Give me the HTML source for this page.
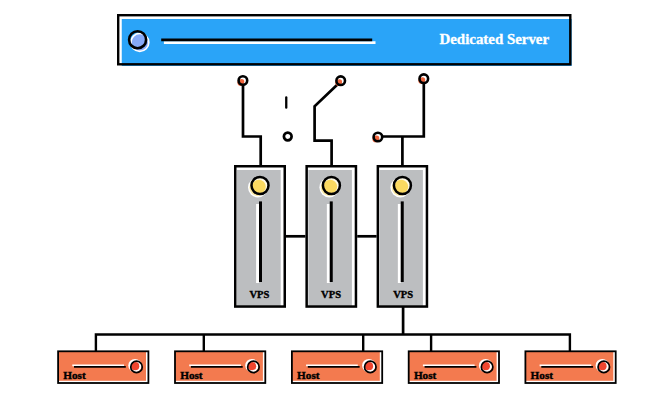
<!DOCTYPE html>
<html><head><meta charset="utf-8"><title>Dedicated Server</title>
<style>
html,body{margin:0;padding:0;background:#fff;}
svg{display:block;}
text{font-family:"Liberation Serif",serif;font-weight:bold;}
</style></head>
<body>
<svg width="662" height="400" viewBox="0 0 662 400">
<rect width="662" height="400" fill="#ffffff"/>

<!-- Dedicated server -->
<rect x="121.75" y="19" width="449.95" height="47" fill="#2aa4f8"/>
<rect x="118.2" y="15.2" width="452.1" height="49.1" fill="none" stroke="#000" stroke-width="2.4"/>
<circle cx="139.8" cy="42.4" r="9.0" fill="#86a9f7" stroke="#fff" stroke-width="1.7"/>
<circle cx="137.6" cy="39.7" r="8.5" fill="none" stroke="#000" stroke-width="2.6"/>
<line x1="163.9" y1="42.7" x2="375.5" y2="42.7" stroke="#fff" stroke-width="2.8"/>
<line x1="161.2" y1="39.8" x2="372.2" y2="39.8" stroke="#000" stroke-width="2.8"/>
<text x="439.5" y="44" font-size="13.8" fill="#fff" stroke="#fff" stroke-width="0.3" textLength="109.6" lengthAdjust="spacingAndGlyphs">Dedicated Server</text>

<!-- switches -->
<g fill="none" stroke="#000" stroke-width="2.7" stroke-linejoin="miter">
<polyline points="243,85 243,136.5 260.7,136.5 260.7,166"/>
<polyline points="338,84 314.6,106.3 314.6,140.6 331.6,140.6 331.6,166"/>
<polyline points="423.8,83 423.8,136.5 382,136.5"/>
<line x1="402.4" y1="136.5" x2="402.4" y2="166"/>
<line x1="286.25" y1="97.4" x2="286.25" y2="107.7" stroke-width="2.3" stroke-linecap="round"/>
<circle cx="287.75" cy="136.5" r="3.85" stroke-width="2.7"/>
</g>
<g>
<circle cx="240.8" cy="82.4" r="3.4" fill="#f0643c"/><circle cx="242.9" cy="80.5" r="4.3" fill="#fff"/><circle cx="241.6" cy="81.7" r="2.7" fill="#f0643c"/><circle cx="242.9" cy="80.5" r="4.3" fill="none" stroke="#000" stroke-width="2.6"/>
<circle cx="338.6" cy="82.6" r="3.4" fill="#f0643c"/><circle cx="340.7" cy="80.7" r="4.3" fill="#fff"/><circle cx="339.4" cy="81.9" r="2.7" fill="#f0643c"/><circle cx="340.7" cy="80.7" r="4.3" fill="none" stroke="#000" stroke-width="2.6"/>
<circle cx="421.7" cy="80.6" r="3.4" fill="#f0643c"/><circle cx="423.8" cy="78.7" r="4.3" fill="#fff"/><circle cx="422.5" cy="79.9" r="2.7" fill="#f0643c"/><circle cx="423.8" cy="78.7" r="4.3" fill="none" stroke="#000" stroke-width="2.6"/>
<circle cx="375.8" cy="138.9" r="3.4" fill="#f0643c"/><circle cx="377.9" cy="137" r="4.3" fill="#fff"/><circle cx="376.6" cy="138.2" r="2.7" fill="#f0643c"/><circle cx="377.9" cy="137" r="4.3" fill="none" stroke="#000" stroke-width="2.6"/>
</g>

<!-- VPS towers -->
<g>
<rect x="236.90" y="170" width="43.80" height="136.5" fill="#bcbec0"/>
<rect x="235.25" y="166.25" width="49.50" height="140.30" fill="none" stroke="#000" stroke-width="2.5"/>
<circle cx="257.90" cy="187.5" r="9.9" fill="#fff"/><circle cx="257.90" cy="187.5" r="8.5" fill="#fbe9a4"/><circle cx="260.00" cy="185.5" r="8.4" fill="#fffbe8"/><circle cx="258.80" cy="186.7" r="7" fill="#fad961"/><circle cx="260.00" cy="185.5" r="8.5" fill="none" stroke="#000" stroke-width="2.5"/>
<line x1="257.55" y1="204" x2="257.55" y2="283" stroke="#fff" stroke-width="2.9"/><line x1="260.50" y1="201.4" x2="260.50" y2="282" stroke="#000" stroke-width="3"/>
<text x="249.4" y="298.3" font-size="10.4" fill="#000" stroke="#000" stroke-width="0.35" textLength="19.9" lengthAdjust="spacingAndGlyphs">VPS</text>
</g>
<g>
<rect x="308.30" y="170" width="43.60" height="136.5" fill="#bcbec0"/>
<rect x="306.65" y="166.25" width="49.30" height="140.30" fill="none" stroke="#000" stroke-width="2.5"/>
<circle cx="329.30" cy="187.5" r="9.9" fill="#fff"/><circle cx="329.30" cy="187.5" r="8.5" fill="#fbe9a4"/><circle cx="331.40" cy="185.5" r="8.4" fill="#fffbe8"/><circle cx="330.20" cy="186.7" r="7" fill="#fad961"/><circle cx="331.40" cy="185.5" r="8.5" fill="none" stroke="#000" stroke-width="2.5"/>
<line x1="328.30" y1="204" x2="328.30" y2="283" stroke="#fff" stroke-width="2.9"/><line x1="331.25" y1="201.4" x2="331.25" y2="282" stroke="#000" stroke-width="3"/>
<text x="321.1" y="298.3" font-size="10.4" fill="#000" stroke="#000" stroke-width="0.35" textLength="19.9" lengthAdjust="spacingAndGlyphs">VPS</text>
</g>
<g>
<rect x="379.50" y="170" width="43.40" height="136.5" fill="#bcbec0"/>
<rect x="377.85" y="166.25" width="49.10" height="140.30" fill="none" stroke="#000" stroke-width="2.5"/>
<circle cx="400.30" cy="187.5" r="9.9" fill="#fff"/><circle cx="400.30" cy="187.5" r="8.5" fill="#fbe9a4"/><circle cx="402.40" cy="185.5" r="8.4" fill="#fffbe8"/><circle cx="401.20" cy="186.7" r="7" fill="#fad961"/><circle cx="402.40" cy="185.5" r="8.5" fill="none" stroke="#000" stroke-width="2.5"/>
<line x1="399.30" y1="204" x2="399.30" y2="283" stroke="#fff" stroke-width="2.9"/><line x1="402.25" y1="201.4" x2="402.25" y2="282" stroke="#000" stroke-width="3"/>
<text x="393.25" y="298.3" font-size="10.4" fill="#000" stroke="#000" stroke-width="0.35" textLength="19.9" lengthAdjust="spacingAndGlyphs">VPS</text>
</g>

<g stroke="#000" stroke-width="2.7">
<line x1="286" y1="236.3" x2="305.4" y2="236.3"/>
<line x1="357.2" y1="236.3" x2="376.6" y2="236.3"/>
<line x1="403.1" y1="307" x2="403.1" y2="334.5"/>
</g>

<!-- bus -->
<g fill="none" stroke="#000" stroke-width="2.4">
<polyline points="95.9,351 95.9,334.5 569.9,334.5 569.9,351"/>
<line x1="203.8" y1="334.5" x2="203.8" y2="351"/>
<line x1="363.2" y1="334.5" x2="363.2" y2="351"/>
<line x1="431.1" y1="334.5" x2="431.1" y2="351"/>
</g>

<!-- hosts -->
<g>
<rect x="58.00" y="351.5" width="88" height="29.3" fill="#f37a4f"/>
<rect x="58.10" y="351.3" width="90.3" height="31.7" fill="none" stroke="#000" stroke-width="1.8"/>
<line x1="72.30" y1="365.3" x2="124.00" y2="365.3" stroke="#fff" stroke-width="1.7"/><line x1="74.00" y1="366.9" x2="125.80" y2="366.9" stroke="#000" stroke-width="1.9"/>
<circle cx="135.00" cy="365.6" r="6.7" fill="#fff"/><circle cx="135.20" cy="366.2" r="4.1" fill="#f0452f"/><circle cx="136.50" cy="366.9" r="5.75" fill="none" stroke="#000" stroke-width="1.7"/>
<text x="63.30" y="379.2" font-size="10.2" fill="#000" stroke="#000" stroke-width="0.35" textLength="22.4" lengthAdjust="spacingAndGlyphs">Host</text>
</g>
<g>
<rect x="174.90" y="351.5" width="88" height="29.3" fill="#f37a4f"/>
<rect x="175.00" y="351.3" width="90.3" height="31.7" fill="none" stroke="#000" stroke-width="1.8"/>
<line x1="189.20" y1="365.3" x2="240.90" y2="365.3" stroke="#fff" stroke-width="1.7"/><line x1="190.90" y1="366.9" x2="242.70" y2="366.9" stroke="#000" stroke-width="1.9"/>
<circle cx="251.90" cy="365.6" r="6.7" fill="#fff"/><circle cx="252.10" cy="366.2" r="4.1" fill="#f0452f"/><circle cx="253.40" cy="366.9" r="5.75" fill="none" stroke="#000" stroke-width="1.7"/>
<text x="180.20" y="379.2" font-size="10.2" fill="#000" stroke="#000" stroke-width="0.35" textLength="22.4" lengthAdjust="spacingAndGlyphs">Host</text>
</g>
<g>
<rect x="291.80" y="351.5" width="88" height="29.3" fill="#f37a4f"/>
<rect x="291.90" y="351.3" width="90.3" height="31.7" fill="none" stroke="#000" stroke-width="1.8"/>
<line x1="306.10" y1="365.3" x2="357.80" y2="365.3" stroke="#fff" stroke-width="1.7"/><line x1="307.80" y1="366.9" x2="359.60" y2="366.9" stroke="#000" stroke-width="1.9"/>
<circle cx="368.80" cy="365.6" r="6.7" fill="#fff"/><circle cx="369.00" cy="366.2" r="4.1" fill="#f0452f"/><circle cx="370.30" cy="366.9" r="5.75" fill="none" stroke="#000" stroke-width="1.7"/>
<text x="297.10" y="379.2" font-size="10.2" fill="#000" stroke="#000" stroke-width="0.35" textLength="22.4" lengthAdjust="spacingAndGlyphs">Host</text>
</g>
<g>
<rect x="408.60" y="351.5" width="88" height="29.3" fill="#f37a4f"/>
<rect x="408.70" y="351.3" width="90.3" height="31.7" fill="none" stroke="#000" stroke-width="1.8"/>
<line x1="422.90" y1="365.3" x2="474.60" y2="365.3" stroke="#fff" stroke-width="1.7"/><line x1="424.60" y1="366.9" x2="476.40" y2="366.9" stroke="#000" stroke-width="1.9"/>
<circle cx="485.60" cy="365.6" r="6.7" fill="#fff"/><circle cx="485.80" cy="366.2" r="4.1" fill="#f0452f"/><circle cx="487.10" cy="366.9" r="5.75" fill="none" stroke="#000" stroke-width="1.7"/>
<text x="413.90" y="379.2" font-size="10.2" fill="#000" stroke="#000" stroke-width="0.35" textLength="22.4" lengthAdjust="spacingAndGlyphs">Host</text>
</g>
<g>
<rect x="525.30" y="351.5" width="88" height="29.3" fill="#f37a4f"/>
<rect x="525.40" y="351.3" width="90.3" height="31.7" fill="none" stroke="#000" stroke-width="1.8"/>
<line x1="539.60" y1="365.3" x2="591.30" y2="365.3" stroke="#fff" stroke-width="1.7"/><line x1="541.30" y1="366.9" x2="593.10" y2="366.9" stroke="#000" stroke-width="1.9"/>
<circle cx="602.30" cy="365.6" r="6.7" fill="#fff"/><circle cx="602.50" cy="366.2" r="4.1" fill="#f0452f"/><circle cx="603.80" cy="366.9" r="5.75" fill="none" stroke="#000" stroke-width="1.7"/>
<text x="530.60" y="379.2" font-size="10.2" fill="#000" stroke="#000" stroke-width="0.35" textLength="22.4" lengthAdjust="spacingAndGlyphs">Host</text>
</g>
</svg>
</body></html>
